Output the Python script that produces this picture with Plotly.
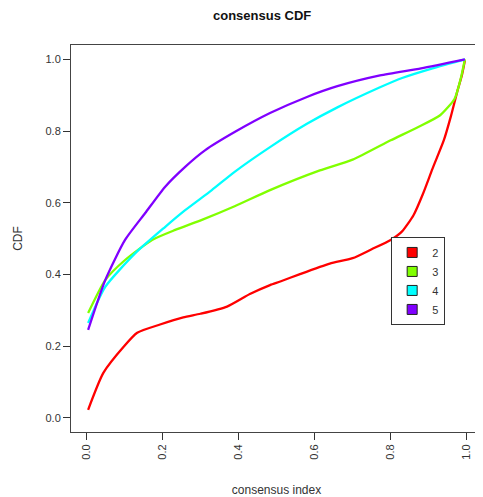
import plotly.graph_objects as go

# consensus CDF curves, one per k
k_labels = ["2", "3", "4", "5"]
k_colors = ["#FF0000", "#80FF00", "#00FFFF", "#8000FF"]

x_k2 = [0.005, 0.045, 0.10, 0.134, 0.194, 0.255, 0.30, 0.37, 0.43, 0.483, 0.51, 0.56, 0.64, 0.70, 0.75, 0.80, 0.83, 0.86, 0.885, 0.91, 0.94, 0.958, 0.976, 0.987, 0.995]
y_k2 = [0.022, 0.125, 0.20, 0.237, 0.26, 0.28, 0.29, 0.31, 0.345, 0.37, 0.38, 0.40, 0.43, 0.445, 0.47, 0.496, 0.52, 0.565, 0.625, 0.695, 0.775, 0.84, 0.914, 0.955, 0.997]

x_k3 = [0.005, 0.05, 0.102, 0.173, 0.234, 0.304, 0.39, 0.483, 0.614, 0.70, 0.80, 0.87, 0.93, 0.968, 0.985, 0.995]
y_k3 = [0.292, 0.384, 0.44, 0.496, 0.524, 0.552, 0.59, 0.635, 0.69, 0.72, 0.774, 0.81, 0.844, 0.89, 0.95, 1.0]

x_k4 = [0.005, 0.05, 0.129, 0.207, 0.26, 0.33, 0.39, 0.483, 0.58, 0.66, 0.772, 0.83, 0.91, 0.995]
y_k4 = [0.264, 0.365, 0.459, 0.532, 0.579, 0.635, 0.686, 0.755, 0.82, 0.866, 0.922, 0.948, 0.975, 1.0]

x_k5 = [0.005, 0.05, 0.102, 0.155, 0.207, 0.26, 0.312, 0.39, 0.483, 0.58, 0.66, 0.772, 0.88, 0.995]
y_k5 = [0.245, 0.384, 0.496, 0.571, 0.644, 0.70, 0.746, 0.797, 0.85, 0.895, 0.925, 0.955, 0.975, 1.0]

x_ticks = [0.0, 0.2, 0.4, 0.6, 0.8, 1.0]
y_ticks = [0.0, 0.2, 0.4, 0.6, 0.8, 1.0]

series = [(x_k2, y_k2), (x_k3, y_k3), (x_k4, y_k4), (x_k5, y_k5)]

fig = go.Figure()

for (xs, ys), name, col in zip(series, k_labels, k_colors):
    fig.add_trace(go.Scatter(
        x=xs, y=ys, mode="lines", name=name, showlegend=False,
        line=dict(color=col, width=2.3, shape="spline", smoothing=0.6),
        hoverinfo="skip",
    ))

# legend entries as filled squares, like R's fill boxes
for name, col in zip(k_labels, k_colors):
    fig.add_trace(go.Scatter(
        x=[None], y=[None], mode="markers", name=name,
        marker=dict(symbol="square", size=10, color=col,
                    line=dict(color="#222222", width=1)),
    ))

axis_font = dict(family="Liberation Sans, Arial", size=11, color="#333333")

# the page body adds an 8px margin, so the figure is 8px smaller and shifted
fig.update_layout(
    width=475,
    height=489,
    margin=dict(l=63, r=1, t=37, b=65, pad=0),
    plot_bgcolor="white",
    paper_bgcolor="white",
    font=axis_font,
    title=dict(
        text="<b>consensus CDF</b>",
        x=0.535, xanchor="center", y=0.984, yanchor="middle",
        font=dict(family="Liberation Sans, Arial", size=13, color="#111111"),
    ),
    legend=dict(
        x=0.779, y=0.504, xanchor="left", yanchor="top",
        bordercolor="#333333", borderwidth=1, bgcolor="white",
        font=dict(family="Liberation Sans, Arial", size=11, color="#333333"),
        tracegroupgap=0, itemwidth=30,
    ),
    showlegend=True,
)

fig.update_xaxes(
    range=[-0.04, 1.04], automargin=False,
    tickmode="array", tickvals=x_ticks, ticktext=[f"{v:.1f}" for v in x_ticks],
    tickangle=-90, ticks="outside", ticklen=7, tickcolor="#333333",
    showgrid=False, zeroline=False,
    showline=True, linecolor="#444444", linewidth=1, mirror=True,
    title=dict(text="consensus index", standoff=27,
               font=dict(family="Liberation Sans, Arial", size=12, color="#333333")),
)
fig.update_yaxes(
    range=[-0.04, 1.04], automargin=False,
    tickmode="array", tickvals=y_ticks, ticktext=[f"{v:.1f}" for v in y_ticks],
    ticks="outside", ticklen=7, tickcolor="#333333",
    showgrid=False, zeroline=False,
    showline=True, linecolor="#444444", linewidth=1, mirror=True,
    title=dict(text="CDF", standoff=20,
               font=dict(family="Liberation Sans, Arial", size=12, color="#333333")),
)

fig.write_html("out.html")
